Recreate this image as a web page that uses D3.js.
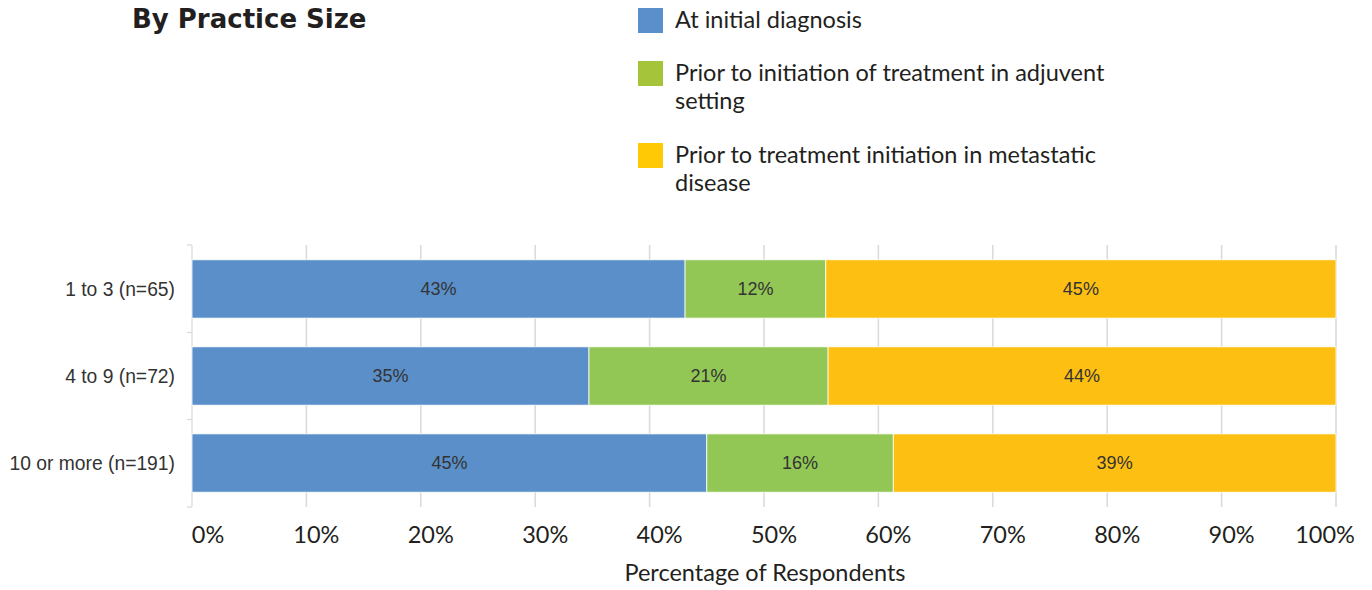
<!DOCTYPE html>
<html lang="en">
<head>
<meta charset="UTF-8">
<title>By Practice Size</title>
<style>
    body { margin: 0; background: #fff; }
    .title { font: bold 26px "DejaVu Sans", sans-serif; fill: #231f20; }
    .legend text, .xlab, .xtitle { font-family: "Lato", "DejaVu Sans", sans-serif; fill: #231f20; }
    .ylab, .val { font-family: "Liberation Sans", Arial, sans-serif; fill: #333; }
</style>
</head>
<body>
<svg id="chart" width="1372" height="590"></svg>

<script src="https://d3js.org/d3.v7.min.js"></script>
<script>
    // data
    const categories = ['1 to 3 (n=65)', '4 to 9 (n=72)', '10 or more (n=191)'];
    const seriesNames = [
        'At initial diagnosis',
        'Prior to initiation of treatment in adjuvent setting',
        'Prior to treatment initiation in metastatic disease'
    ];
    const atDiagnosis = [43.1, 34.7, 45.0];
    const adjuvant = [12.3, 20.9, 16.3];
    const metastatic = [44.6, 44.4, 38.7];
    const xTicks = [0, 10, 20, 30, 40, 50, 60, 70, 80, 90, 100];

    const barColors = ['#5b8fc9', '#92c755', '#fcbf12'];
    const legendColors = ['#5b8fcc', '#a6c43a', '#ffca05'];
    const legendLines = [
        ['At initial diagnosis'],
        ['Prior to initiation of treatment in adjuvent', 'setting'],
        ['Prior to treatment initiation in metastatic', 'disease']
    ];

    const svg = d3.select('#chart');

    const plotL = 192, plotR = 1336, plotT = 245, plotB = 507;

    const x = d3.scaleLinear().domain([0, 100]).range([plotL, plotR]);
    const y = d3.scaleBand().domain(categories).range([plotT, plotB]).paddingInner(0.33).paddingOuter(0.17);

    // title
    svg.append('text').attr('class', 'title')
        .attr('x', 132).attr('y', 28)
        .text('By Practice Size');

    // legend
    const legendY = [8, 61, 143];
    const lg = svg.selectAll('.legend')
        .data(legendLines)
        .enter().append('g')
        .attr('class', 'legend')
        .attr('transform', (d, i) => `translate(638, ${legendY[i]})`);
    lg.append('rect')
        .attr('width', 25).attr('height', 25)
        .attr('fill', (d, i) => legendColors[i]);
    lg.each(function (lines) {
        const t = d3.select(this).append('text')
            .attr('x', 37).attr('y', 20)
            .style('font-size', '23.5px');
        lines.forEach((l, j) => {
            t.append('tspan').attr('x', 37).attr('dy', j === 0 ? 0 : 28).text(l);
        });
    });

    // gridlines
    svg.selectAll('.grid')
        .data(xTicks.slice(1))
        .enter().append('line')
        .attr('x1', d => x(d)).attr('x2', d => x(d))
        .attr('y1', plotT).attr('y2', plotB)
        .attr('stroke', '#d9d9d9').attr('stroke-width', 1.5);

    // left axis line + small ticks
    svg.append('line')
        .attr('x1', plotL).attr('x2', plotL).attr('y1', plotT).attr('y2', plotB)
        .attr('stroke', '#d9d9d9').attr('stroke-width', 1.2);
    const bandEdges = [plotT].concat(categories.map(c => y(c) + y.bandwidth() + y.step() * y.paddingInner() / 2));
    bandEdges[bandEdges.length - 1] = plotB;
    svg.selectAll('.ytick')
        .data(bandEdges)
        .enter().append('line')
        .attr('x1', plotL - 5).attr('x2', plotL)
        .attr('y1', d => d).attr('y2', d => d)
        .attr('stroke', '#d9d9d9').attr('stroke-width', 1.2);

    // stacked data
    const rows = categories.map((c, i) => ({
        cat: c,
        vals: [atDiagnosis[i], adjuvant[i], metastatic[i]]
    }));
    const stack = d3.stack().keys([0, 1, 2]).value((d, k) => d.vals[k]);
    const layers = stack(rows);

    const layerG = svg.selectAll('.layer')
        .data(layers)
        .enter().append('g')
        .attr('fill', (d, i) => barColors[i]);

    layerG.selectAll('rect')
        .data(d => d)
        .enter().append('rect')
        .attr('x', d => x(d[0]))
        .attr('width', d => x(d[1]) - x(d[0]))
        .attr('y', d => y(d.data.cat))
        .attr('height', y.bandwidth())
        .attr('stroke', '#fff').attr('stroke-width', 0.8);

    layerG.selectAll('.val')
        .data(d => d)
        .enter().append('text')
        .attr('class', 'val')
        .attr('x', d => (x(d[0]) + x(d[1])) / 2)
        .attr('y', d => y(d.data.cat) + y.bandwidth() / 2)
        .attr('dy', '0.35em')
        .attr('text-anchor', 'middle')
        .style('font-size', '18px')
        .text(d => Math.round(d[1] - d[0]) + '%');

    // y labels
    svg.selectAll('.ylab')
        .data(categories)
        .enter().append('text')
        .attr('class', 'ylab')
        .attr('x', 175)
        .attr('y', d => y(d) + y.bandwidth() / 2)
        .attr('dy', '0.35em')
        .attr('text-anchor', 'end')
        .style('font-size', '19.3px')
        .text(d => d);

    // x tick labels
    svg.selectAll('.xlab')
        .data(xTicks)
        .enter().append('text')
        .attr('class', 'xlab')
        .attr('x', d => x(d))
        .attr('dx', (d, i) => i === 0 ? 16 : (i === xTicks.length - 1 ? -11 : 10))
        .attr('y', 543)
        .attr('text-anchor', 'middle')
        .style('font-size', '23.5px')
        .text(d => d + '%');

    svg.append('text').attr('class', 'xtitle')
        .attr('x', 765).attr('y', 581)
        .attr('text-anchor', 'middle')
        .style('font-size', '23.5px')
        .text('Percentage of Respondents');
</script>
</body>
</html>
